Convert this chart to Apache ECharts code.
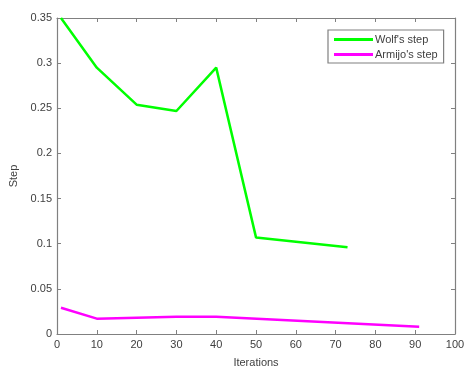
<!DOCTYPE html>
<html>
<head>
<meta charset="utf-8">
<script src="https://cdn.jsdelivr.net/npm/echarts@6/dist/echarts.min.js"></script>
<style>
  html, body {margin: 0; padding: 0; background: #fff;}
  #main {width: 464px; height: 367px;}
</style>
</head>
<body>
<div id="main"></div>
<script>
// values
const wolfIter = [1, 10, 20, 30, 40, 50, 73];
const wolfStep = [0.35, 0.295, 0.254, 0.247, 0.295, 0.107, 0.096];
const armijoIter = [1, 10, 30, 40, 91];
const armijoStep = [0.029, 0.017, 0.019, 0.019, 0.008];
const seriesNames = ["Wolf's step", "Armijo's step"];

const axisGrey = '#808080';
const textGrey = '#404040';
const font = 'Liberation Sans';

const myChart = echarts.init(document.getElementById('main'));

const pairs = (xs, ys) => xs.map((x, i) => [x, ys[i]]);

const inner = {show: true, inside: true, length: 4, lineStyle: {color: axisGrey}};
const frameLine = {show: true, onZero: false, lineStyle: {color: axisGrey, width: 1.2}};

myChart.setOption({
  animation: false,
  textStyle: {fontFamily: font},
  grid: {left: 57, right: 9, top: 18, bottom: 33, containLabel: false, outerBoundsMode: 'none'},
  legend: {
    left: 328, top: 30, orient: 'vertical',
    data: seriesNames,
    icon: 'rect', itemWidth: 39, itemHeight: 3, itemGap: 4,
    padding: [4, 6, 3, 6],
    borderColor: axisGrey, borderWidth: 1.2, backgroundColor: '#fff',
    textStyle: {fontSize: 11, color: textGrey, fontFamily: font, padding: [0, 0, 0, -3]}
  },
  xAxis: [
    {
      type: 'value', min: 0, max: 100, interval: 10, position: 'bottom',
      name: 'Iterations', nameLocation: 'middle', nameGap: 23,
      nameTextStyle: {fontSize: 11, color: textGrey},
      axisLine: frameLine,
      axisTick: inner,
      axisLabel: {fontSize: 11, color: textGrey, margin: 5},
      splitLine: {show: false}
    },
    {
      type: 'value', min: 0, max: 100, interval: 10, position: 'top',
      axisLine: frameLine,
      axisTick: inner, axisLabel: {show: false}, splitLine: {show: false}
    }
  ],
  yAxis: [
    {
      type: 'value', min: 0, max: 0.35, interval: 0.05, position: 'left',
      name: 'Step', nameLocation: 'middle', nameGap: 35, nameRotate: 90,
      nameTextStyle: {fontSize: 11, color: textGrey},
      axisLine: frameLine,
      axisTick: inner,
      axisLabel: {fontSize: 11, color: textGrey, margin: 5},
      splitLine: {show: false}
    },
    {
      type: 'value', min: 0, max: 0.35, interval: 0.05, position: 'right',
      axisLine: frameLine,
      axisTick: inner, axisLabel: {show: false}, splitLine: {show: false}
    }
  ],
  series: [
    {
      name: seriesNames[0], type: 'line', data: pairs(wolfIter, wolfStep),
      showSymbol: false, color: '#00ff00',
      lineStyle: {width: 2.5, color: '#00ff00'}
    },
    {
      name: seriesNames[1], type: 'line', data: pairs(armijoIter, armijoStep),
      showSymbol: false, color: '#ff00ff',
      lineStyle: {width: 2.5, color: '#ff00ff'}
    }
  ]
});
</script>
</body>
</html>
